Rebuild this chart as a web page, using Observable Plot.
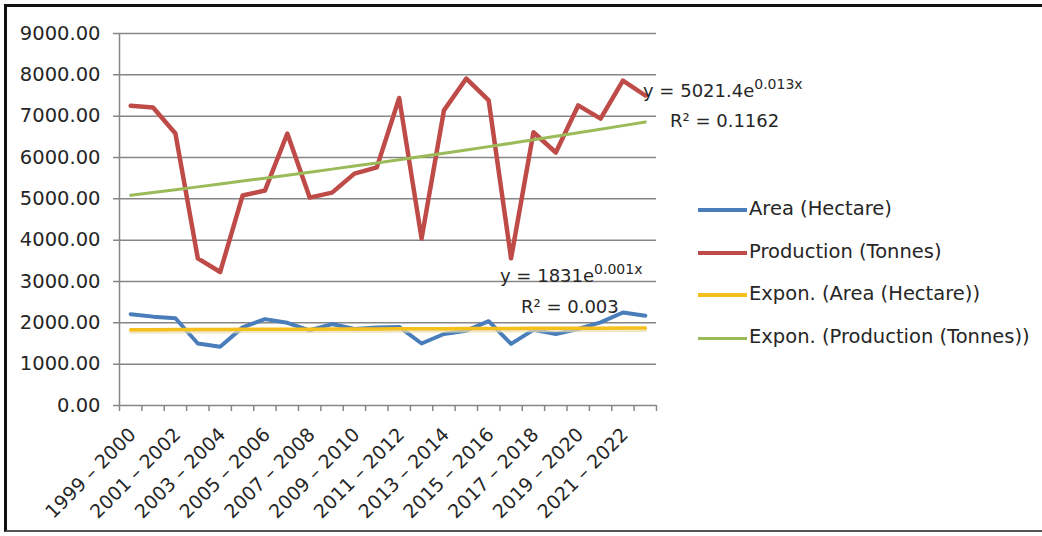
<!DOCTYPE html>
<html>
<head>
<meta charset="utf-8">
<script src="https://cdn.jsdelivr.net/npm/d3@7"></script>
<script src="https://cdn.jsdelivr.net/npm/@observablehq/plot@0.6"></script>
<style>
  html, body { margin: 0; padding: 0; background: #fff; }
  #wrap { position: relative; width: 1042px; height: 536px; overflow: hidden; background: #fff;
          font-family: "DejaVu Sans", sans-serif; color: #262626; }
  #chart { position: absolute; left: 0; top: 0; }
  .border { position: absolute; left: 4px; top: 4px; width: 1100px; height: 528px;
            border-top: 3px solid #111; border-left: 3px solid #111; border-bottom: 2px solid #555; box-sizing: border-box; }
  .t { position: absolute; font-size: 18px; line-height: 18px; white-space: nowrap; }
  .t sup { font-size: 14px; vertical-align: 0; position: relative; top: -8px; }
  .lg { font-size: 19.5px; }
  .sw { position: absolute; width: 49px; }
</style>
</head>
<body>
<div id="wrap">
  <div id="chart"></div>
  <div class="border"></div>
  <div class="t" style="left:643px; top:82px;">y = 5021.4e<sup>0.013x</sup></div>
  <div class="t" style="left:670px; top:112px;">R² = 0.1162</div>
  <div class="t" style="left:500px; top:267px;">y = 1831e<sup>0.001x</sup></div>
  <div class="t" style="left:521px; top:298px;">R² = 0.003</div>
  <div id="legend"></div>
</div>
<script>
// ---- data ----
const years = [
  "1999 – 2000","2000 – 2001","2001 – 2002","2002 – 2003","2003 – 2004","2004 – 2005",
  "2005 – 2006","2006 – 2007","2007 – 2008","2008 – 2009","2009 – 2010","2010 – 2011",
  "2011 – 2012","2012 – 2013","2013 – 2014","2014 – 2015","2015 – 2016","2016 – 2017",
  "2017 – 2018","2018 – 2019","2019 – 2020","2020 – 2021","2021 – 2022","2022 – 2023"
];
const areaHectare = [2210, 2150, 2110, 1500, 1420, 1890, 2090, 2000, 1820, 1970, 1850, 1890,
                     1900, 1500, 1730, 1810, 2040, 1490, 1830, 1730, 1850, 2010, 2250, 2170];
const productionTonnes = [7250, 7210, 6580, 3560, 3230, 5080, 5200, 6580, 5030, 5150, 5610, 5760,
                          7440, 4040, 7140, 7910, 7380, 3560, 6610, 6120, 7260, 6940, 7860, 7500];
// exponential trend coefficients as printed on the chart: y = a·e^(b·x)
const areaTrend = { a: 1831, b: 0.001 };
const prodTrend = { a: 5021.4, b: 0.013 };
const yTicks = [0, 1000, 2000, 3000, 4000, 5000, 6000, 7000, 8000, 9000];
const legendLabels = ["Area (Hectare)", "Production (Tonnes)", "Expon. (Area (Hectare))", "Expon. (Production (Tonnes))"];
const colors = ["#4a7ebb", "#be4b48", "#f5c01b", "#9bbb59"];

// ---- tables ----
const areaRows = years.map((year, i) => ({ year, value: areaHectare[i] }));
const prodRows = years.map((year, i) => ({ year, value: productionTonnes[i] }));
const areaTrendRows = years.map((year, i) => ({ year, value: areaTrend.a * Math.exp(areaTrend.b * (i + 1)) }));
const prodTrendRows = years.map((year, i) => ({ year, value: prodTrend.a * Math.exp(prodTrend.b * (i + 1)) }));
const labeledYears = years.filter((d, i) => i % 2 === 0);

const W = 1042, H = 536, ML = 119, MR = 386, MT = 33, MB = 131;
const step = (W - ML - MR) / years.length;
const gray = "#868686";

const chart = Plot.plot({
  width: W, height: H,
  marginLeft: ML, marginRight: MR, marginTop: MT, marginBottom: MB,
  style: { fontFamily: "DejaVu Sans, sans-serif", color: "#262626", background: "transparent" },
  x: { type: "point", domain: years, padding: 0.5, align: 0.5, round: false },
  y: { domain: [0, 9000] },
  marks: [
    Plot.gridY(yTicks, { stroke: gray, strokeOpacity: 1, strokeWidth: 1.5, insetLeft: -6 }),
    Plot.ruleX([years[0]], { dx: -step / 2, stroke: gray, strokeWidth: 1.5 }),
    Plot.axisX(years, { tickSize: 6, tickFormat: () => "", dx: -step / 2, stroke: gray, strokeWidth: 1.5, label: null }),
    Plot.axisX([years[years.length - 1]], { tickSize: 6, tickFormat: () => "", dx: step / 2, stroke: gray, strokeWidth: 1.5, label: null }),
    Plot.axisX(labeledYears, { tickSize: 0, tickPadding: 26, tickRotate: -45, fontSize: 19, fill: "#262626", label: null, dx: 2 }),
    Plot.axisY(yTicks, { tickSize: 0, tickPadding: 19, tickFormat: d => d.toFixed(2), fontSize: 19.5, fill: "#262626", label: null }),
    Plot.line(areaRows, { x: "year", y: "value", stroke: colors[0], strokeWidth: 4, strokeLinejoin: "round" }),
    Plot.line(prodRows, { x: "year", y: "value", stroke: colors[1], strokeWidth: 4.5, strokeLinejoin: "round" }),
    Plot.line(areaTrendRows, { x: "year", y: "value", stroke: "#e9dcb0", strokeWidth: 4, dy: 2, strokeOpacity: 0.7 }),
    Plot.line(areaTrendRows, { x: "year", y: "value", stroke: colors[2], strokeWidth: 3.5 }),
    Plot.line(prodTrendRows, { x: "year", y: "value", stroke: colors[3], strokeWidth: 3 })
  ]
});
document.getElementById("chart").appendChild(chart);

// ---- legend ----
const legend = document.getElementById("legend");
const rowTops = [200, 243, 285, 328];
const swWidths = [4, 4.5, 3.5, 3];
legendLabels.forEach((label, i) => {
  const sw = document.createElement("div");
  sw.className = "sw";
  sw.style.left = "698px";
  sw.style.top = (rowTops[i] + 10 - swWidths[i] / 2) + "px";
  sw.style.height = swWidths[i] + "px";
  sw.style.background = colors[i];
  legend.appendChild(sw);
  const t = document.createElement("div");
  t.className = "t lg";
  t.style.left = "749px";
  t.style.top = rowTops[i] + "px";
  t.textContent = label;
  legend.appendChild(t);
});
</script>
</body>
</html>
